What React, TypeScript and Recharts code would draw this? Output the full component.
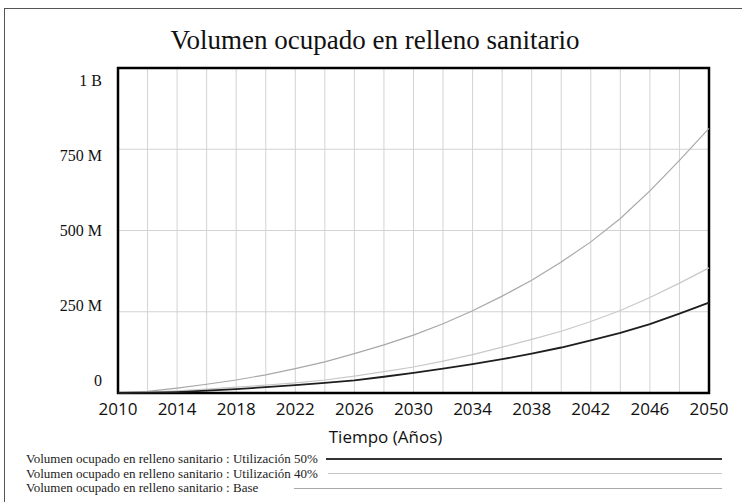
import React from 'react';
import { LineChart, Line, XAxis, YAxis, CartesianGrid, ReferenceArea } from 'recharts';

const years = [2010, 2012, 2014, 2016, 2018, 2020, 2022, 2024, 2026, 2028, 2030, 2032, 2034, 2036, 2038, 2040, 2042, 2044, 2046, 2048, 2050];
// values in millions
const baseM = [0, 5, 15, 27, 40, 56, 75, 96, 121, 148, 178, 213, 253, 298, 347, 403, 465, 537, 622, 716, 814];
const util40M = [0, 3, 7, 12, 18, 24, 31, 40, 52, 66, 80, 98, 118, 141, 165, 190, 220, 254, 294, 338, 385];
const util50M = [0, 1, 3, 7, 12, 18, 24, 31, 39, 50, 62, 75, 89, 104, 121, 140, 162, 185, 212, 244, 278];

const yTicks = [0, 250e6, 500e6, 750e6, 1e9];
const xLabelYears = [2010, 2014, 2018, 2022, 2026, 2030, 2034, 2038, 2042, 2046, 2050];

const title = 'Volumen ocupado en relleno sanitario';
const xTitle = 'Tiempo (Años)';
const legendItems = [
  { key: 'u50', name: 'Volumen ocupado en relleno sanitario : Utilización 50%', color: '#333333', width: 2, gap: 8 },
  { key: 'u40', name: 'Volumen ocupado en relleno sanitario : Utilización 40%', color: '#c4c4c4', width: 1.2, gap: 10 },
  { key: 'base', name: 'Volumen ocupado en relleno sanitario : Base', color: '#a8a8a8', width: 1.2, gap: 36 },
];

const data = years.map((y, i) => ({
  year: y,
  base: baseM[i] * 1e6,
  u40: util40M[i] * 1e6,
  u50: util50M[i] * 1e6,
}));

const fmtY = (v: number) => (v === 0 ? '0' : v >= 1e9 ? `${v / 1e9} B` : `${v / 1e6} M`);

const YTick = (props: any) => {
  const { x, y, payload } = props;
  const v = payload.value as number;
  const off = 12 - (1 - v / 1e9) * 25;
  return (
    <text x={x} y={y + off} dy="0.35em" textAnchor="end" fontFamily="'Liberation Serif', serif" fontSize={16} fill="#111">
      {fmtY(v)}
    </text>
  );
};

const XTick = (props: any) => {
  const { x, y, payload } = props;
  const v = payload.value as number;
  if (!xLabelYears.includes(v)) return <g />;
  return (
    <text x={x} y={y} textAnchor="middle" fontFamily="'Open Sans', sans-serif" fontSize={17} fill="#111">
      {v}
    </text>
  );
};

export default function App() {
  const serif = "'Liberation Serif', 'Times New Roman', serif";
  return (
    <div style={{ position: 'absolute', left: 0, top: 0, width: 742, height: 502, background: '#fff', overflow: 'hidden' }}>
      <div style={{ position: 'absolute', left: 4, top: 8, width: 800, height: 600, borderTop: '1px solid #555', borderLeft: '1px solid #555' }} />
      <div style={{ position: 'absolute', left: 0, top: 25, width: 750, textAlign: 'center', fontFamily: serif, fontSize: 27, lineHeight: '31px', color: '#111' }}>
        {title}
      </div>
      <div style={{ position: 'absolute', left: 0, top: 0 }}>
        <LineChart width={742} height={502} data={data} margin={{ top: 68, right: 33, left: 0, bottom: 54 }}>
          <CartesianGrid stroke="#d3d3d3" strokeWidth={1} />
          <XAxis
            dataKey="year"
            type="number"
            domain={[2010, 2050]}
            ticks={years}
            interval={0}
            axisLine={false}
            tickLine={false}
            tickSize={6}
            tickMargin={16}
            height={55}
            tick={<XTick />}
            label={{
              content: (p: any) => {
                const vb = p.viewBox || { x: 118, y: 393, width: 591 };
                return (
                  <text x={vb.x + vb.width / 2 - 28} y={vb.y + 50} textAnchor="middle" fontFamily="'Open Sans', sans-serif" fontSize={17} fill="#111">
                    {xTitle}
                  </text>
                );
              },
            }}
          />
          <YAxis
            type="number"
            domain={[0, 1e9]}
            ticks={yTicks}
            interval={0}
            width={118}
            axisLine={false}
            tickLine={false}
            tickSize={6}
            tickMargin={10}
            tick={<YTick />}
          />
          <Line type="linear" dataKey="base" stroke="#a8a8a8" strokeWidth={1.2} dot={false} isAnimationActive={false} />
          <Line type="linear" dataKey="u40" stroke="#c8c8c8" strokeWidth={1.2} dot={false} isAnimationActive={false} />
          <Line type="linear" dataKey="u50" stroke="#1e1e1e" strokeWidth={1.8} dot={false} isAnimationActive={false} />
          <ReferenceArea x1={2010} x2={2050} y1={0} y2={1e9} fill="none" fillOpacity={0} stroke="#000" strokeWidth={2.5} ifOverflow="visible" />
        </LineChart>
      </div>
      <div style={{ position: 'absolute', left: 26, top: 452, width: 696, fontFamily: serif, fontSize: 13, color: '#222' }}>
        {legendItems.map((it) => (
          <div key={it.key} style={{ display: 'flex', alignItems: 'center', height: 14.5, lineHeight: '14.5px' }}>
            <span style={{ whiteSpace: 'nowrap' }}>{it.name}</span>
            <div style={{ flex: 1, marginLeft: it.gap, borderTop: `${it.width}px solid ${it.color}` }} />
          </div>
        ))}
      </div>
    </div>
  );
}
